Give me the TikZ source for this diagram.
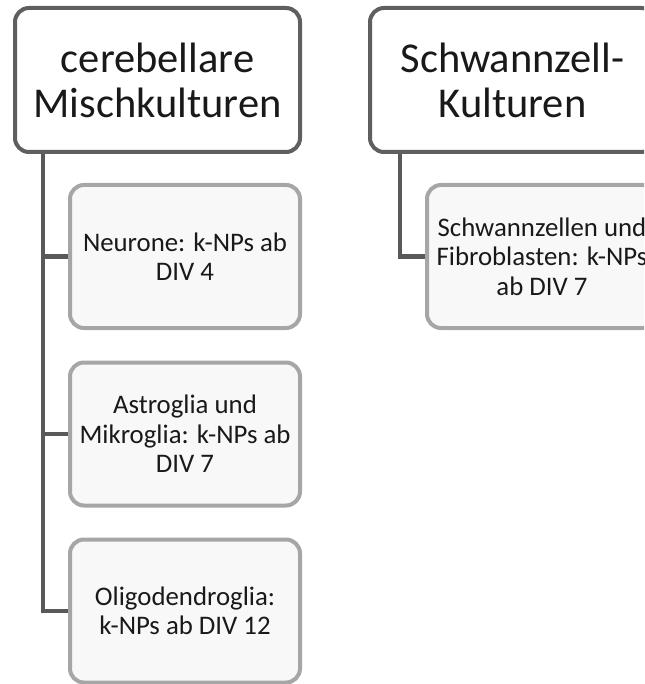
\documentclass[tikz,border=0pt]{standalone}
\usepackage{fontspec}
\setmainfont{Carlito}
\definecolor{topline}{HTML}{5F5F5F}
\definecolor{subline}{HTML}{A6A6A6}
\definecolor{subfill}{HTML}{F8F8F8}
\definecolor{connline}{HTML}{595959}
\tikzset{
  topbox/.style={draw=topline, line width=4pt, fill=white, rounded corners=14pt,
    minimum width=285pt, minimum height=144pt, inner sep=0pt, align=center,
    text=black!90, font=\fontsize{42.5}{45}\selectfont},
  subbox/.style={draw=subline, line width=4pt, fill=subfill, rounded corners=14pt,
    minimum width=230pt, minimum height=143pt, inner sep=0pt, align=center,
    text=black!90, font=\fontsize{26.8}{29.5}\selectfont},
  conn/.style={draw=connline, line width=4pt}
}
\begin{document}
\begin{tikzpicture}[x=1pt,y=-1pt]
    \clip (0,0) rectangle (644,684);

    % oberste Ebene
    \node[topbox] (cereb) at (157.5,80) {cerebellare\\Mischkulturen};
    \node[topbox] (schwann) at (512.5,80) {Schwannzell-\\Kulturen};

    % Unterpunkte
    \node[subbox] (neur) at (185,256.5) {Neurone: k-NPs ab\\DIV 4};
    \node[subbox] (astro) at (185,434) {Astroglia und\\Mikroglia: k-NPs ab\\DIV 7};
    \node[subbox] (oligo) at (185,611) {Oligodendroglia:\\k-NPs ab DIV 12};
    \node[subbox] (fibro) at (542,256.5) {Schwannzellen und\\Fibroblasten: k-NPs\\ab DIV 7};

    % Verbindungen
    \draw[conn] ([xshift=30pt]cereb.south west) |- (oligo.west);
    \draw[conn] ([xshift=30pt]cereb.south west |- neur.west) -- (neur.west);
    \draw[conn] ([xshift=30pt]cereb.south west |- astro.west) -- (astro.west);
    \draw[conn] ([xshift=32pt]schwann.south west) |- (fibro.west);

\end{tikzpicture}
\end{document}
